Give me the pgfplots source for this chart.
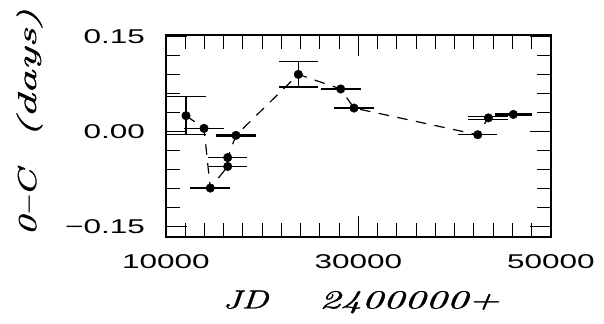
\documentclass[border=0pt]{standalone}
\usepackage{fontspec}
\usepackage{graphicx}
\usepackage{pgfplots}
\pgfplotsset{compat=1.18}
\newfontfamily\tickfont{Liberation Sans}
\newfontfamily\labfont[FakeBold=1.2]{Latin Modern Roman}
\newcommand\tkl[1]{\scalebox{1.58}[1]{\fontsize{20}{24}\selectfont\tickfont #1}}
\newcommand\lbl[2]{\scalebox{#1}[1]{\fontsize{26}{30}\selectfont\labfont\itshape #2}}
\pgfplotsset{
  errH/.style={black, draw=none, mark=none, error bars/.cd, x dir=both, x explicit, error mark=none,
    error bar style={draw=black, line width=#1}},
  errV/.style={black, draw=none, mark=none, error bars/.cd, y dir=both, y explicit, error mark=none,
    error bar style={draw=black, line width=#1}},
}
\begin{document}
\begin{tikzpicture}
\begin{axis}[
  scale only axis, width=385bp, height=202bp,
  at={(0,0)}, anchor=south west,
  xmin=10000, xmax=50000, ymin=-0.166, ymax=0.152,
  scaled x ticks=false, scaled y ticks=false,
  xtick={10000,30000,50000},
  xticklabels={\tkl{10000},\tkl{30000},\tkl{50000}},
  minor xtick={12000,14000,...,48000},
  ytick={-0.15,0,0.15},
  yticklabels={\tkl{−0.15},\tkl{0.00},\tkl{0.15}},
  minor ytick={-0.12,-0.09,-0.06,-0.03,0.03,0.06,0.09,0.12},
  major tick length=21bp, minor tick length=14bp,
  tick align=inside,
  axis line style={line width=1.3bp, black},
  tick style={line width=1bp, black},
  xticklabel style={anchor=base, inner sep=0pt, yshift=-31bp},
  yticklabel style={anchor=east, inner sep=0pt, xshift=-21bp},
  xlabel={\lbl{1.4}{JD}\hspace{51bp}\lbl{1.64}{2400000+}},
  xlabel style={at={(axis description cs:0.8675,-0.353)}, anchor=base east, inner sep=0pt},
  ylabel={\lbl{1.5}{0–C}\hspace{32bp}\lbl{1.85}{(days)}},
  ylabel style={at={(axis description cs:-0.3377,0.567)}, anchor=base, inner sep=0pt},
]
% dashed connecting line
\addplot[black, line width=1.2bp, dash pattern=on 10.5bp off 8.5bp, mark=none] coordinates {
  (12080,0.025) (13950,0.005) (14600,-0.089) (16410,-0.055) (16410,-0.041)
  (17270,-0.006) (23750,0.090) (28150,0.067) (29530,0.037) (42390,-0.005)
  (43490,0.0215) (46090,0.027)
};
% vertical error bars
\addplot[errV=1.2bp] coordinates {
  (12080,0.025) +- (0,0.030)
  (23750,0.090) +- (0,0.020)
};
% caps of the vertical error bars
\addplot[errH=1.2bp] coordinates {
  (12080,0.055) +- (2040,0)
  (12080,-0.005) +- (2040,0)
  (23750,0.110) +- (2000,0)
  (23750,0.070) +- (2000,0)
};
% thin horizontal bars
\addplot[errH=1.2bp] coordinates {
  (13950,0.005) +- (2080,0)
  (14600,-0.089) +- (2080,0)
  (16410,-0.055) +- (2050,0)
  (16410,-0.041) +- (2050,0)
  (29530,0.037) +- (2060,0)
  (42390,-0.005) +- (2050,0)
  (43490,0.0235) +- (2080,0)
  (43490,0.0195) +- (2080,0)
};
% thick horizontal bars
\addplot[errH=2.3bp] coordinates {
  (17270,-0.006) +- (2050,0)
  (28150,0.067) +- (2060,0)
  (46090,0.027) +- (1900,0)
};
% dots
\addplot[black, only marks, mark=*, mark size=4.3bp, mark options={fill=black}] coordinates {
  (12080,0.025) (13950,0.005) (14600,-0.089) (16410,-0.055) (16410,-0.041)
  (17270,-0.006) (23750,0.090) (28150,0.067) (29530,0.037) (42390,-0.005)
  (43490,0.0215) (46090,0.027)
};
\end{axis}
\pgfresetboundingbox
\path[use as bounding box] (-166bp,-87bp) rectangle (438bp,237bp);
\end{tikzpicture}
\end{document}
